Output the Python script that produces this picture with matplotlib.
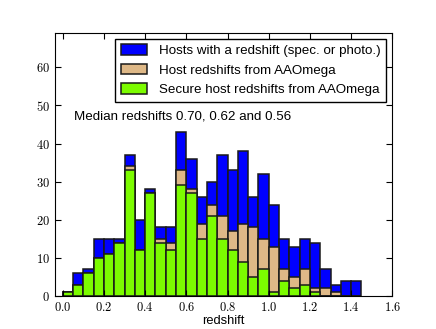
import matplotlib
matplotlib.use('Agg')
import matplotlib.pyplot as plt
import numpy as np
from matplotlib.ticker import FuncFormatter

# bin left edges, width 0.05
bin_left = np.round(np.arange(0.0, 1.45, 0.05), 2)
bin_width = 0.05

all_hosts = [1, 6, 7, 15, 15, 15, 37, 20, 28, 18, 18, 43, 36, 26, 30,
             37, 33, 38, 26, 32, 24, 15, 13, 15, 14, 7, 3, 4, 4]
aaomega = [1, 3, 6, 10, 11, 14, 34, 12, 27, 15, 14, 33, 28, 19, 24,
           21, 17, 19, 18, 15, 13, 7, 5, 7, 2, 2, 1, 0, 0]
secure = [1, 3, 6, 10, 11, 14, 33, 12, 27, 14, 12, 29, 27, 15, 21,
          15, 12, 9, 5, 7, 1, 4, 2, 3, 1, 0, 0, 0, 0]

labels = ['Hosts with a redshift (spec. or photo.)',
          'Host redshifts from AAOmega',
          'Secure host redshifts from AAOmega']
colors = ['#0000ff', '#deb887', '#7cfc00']

plt.rcParams['font.family'] = ['Liberation Sans', 'DejaVu Sans']
plt.rcParams['mathtext.fontset'] = 'cm'

fig = plt.figure(figsize=(4.36, 3.29), dpi=100)
ax = fig.add_axes([0.125, 0.1, 0.775, 0.8])

for vals, col, lab in zip([all_hosts, aaomega, secure], colors, labels):
    ax.bar(bin_left, vals, width=bin_width, align='edge', color=col,
           edgecolor='#1a1a1a', linewidth=1.1, label=lab)

ax.set_xlim(-0.04, 1.6)
ax.set_ylim(0, 69)
ax.set_xticks(np.arange(0, 1.61, 0.2))
ax.set_yticks(np.arange(0, 61, 10))
ax.xaxis.set_major_formatter(FuncFormatter(lambda v, p: r'$%.1f$' % v))
ax.yaxis.set_major_formatter(FuncFormatter(lambda v, p: r'$%d$' % v))
ax.tick_params(direction='in', top=True, right=True, labelsize=9, length=4)

ax.set_xlabel('redshift', fontsize=9.3, labelpad=1)
ax.text(0.055, 47, 'Median redshifts 0.70, 0.62 and 0.56', fontsize=9.6, va='center')

ax.legend(loc='upper right', fontsize=9.6, fancybox=False, edgecolor='black',
          framealpha=1.0, handlelength=2.0, handleheight=0.85, handletextpad=0.9,
          labelspacing=0.5, borderaxespad=0.45)

fig.savefig('out.png', dpi=100)
